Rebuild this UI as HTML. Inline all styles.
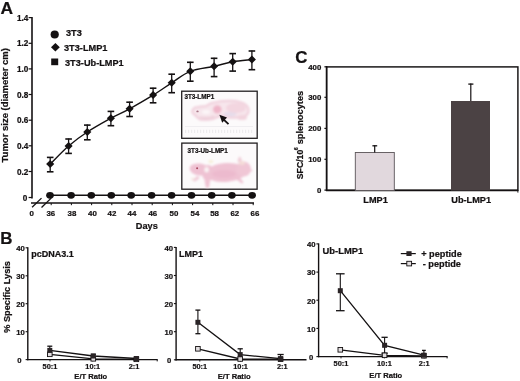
<!DOCTYPE html>
<html><head><meta charset="utf-8"><style>
html,body{margin:0;padding:0;background:#fff;width:520px;height:381px;overflow:hidden}
svg{display:block}
text{stroke:#141112;stroke-width:0.22px;paint-order:stroke}
svg{filter:blur(0.3px)}
</style></head><body>
<svg width="520" height="381" viewBox="0 0 520 381" font-family="'Liberation Sans', sans-serif" font-weight="bold" fill="#141112">
<text x="0.5" y="14.3" font-size="17.4" text-anchor="start" >A</text>
<line x1="32.0" y1="17.0" x2="32.0" y2="198.6" stroke="#141112" stroke-width="1.6"/>
<line x1="28.6" y1="197.5" x2="32.0" y2="197.5" stroke="#141112" stroke-width="1.2"/>
<text x="27.2" y="200.6" font-size="8.2" text-anchor="end" >0</text>
<line x1="28.6" y1="171.5" x2="32.0" y2="171.5" stroke="#141112" stroke-width="1.2"/>
<text x="28.3" y="174.55999999999997" font-size="8.2" text-anchor="end" >0.2</text>
<line x1="28.6" y1="145.8" x2="32.0" y2="145.8" stroke="#141112" stroke-width="1.2"/>
<text x="28.3" y="148.92" font-size="8.2" text-anchor="end" >0.4</text>
<line x1="28.6" y1="120.2" x2="32.0" y2="120.2" stroke="#141112" stroke-width="1.2"/>
<text x="28.3" y="123.28" font-size="8.2" text-anchor="end" >0.6</text>
<line x1="28.6" y1="94.5" x2="32.0" y2="94.5" stroke="#141112" stroke-width="1.2"/>
<text x="28.3" y="97.63999999999999" font-size="8.2" text-anchor="end" >0.8</text>
<line x1="28.6" y1="68.9" x2="32.0" y2="68.9" stroke="#141112" stroke-width="1.2"/>
<text x="28.3" y="72.0" font-size="8.2" text-anchor="end" >1.0</text>
<line x1="28.6" y1="43.3" x2="32.0" y2="43.3" stroke="#141112" stroke-width="1.2"/>
<text x="28.3" y="46.36000000000002" font-size="8.2" text-anchor="end" >1.2</text>
<line x1="28.6" y1="17.6" x2="32.0" y2="17.6" stroke="#141112" stroke-width="1.2"/>
<text x="28.3" y="20.720000000000034" font-size="8.2" text-anchor="end" >1.4</text>
<text transform="translate(8.4,105.3) rotate(-90)" font-size="9.5" text-anchor="middle">Tumor size (diameter cm)</text>
<line x1="31" y1="203.1" x2="254" y2="203.1" stroke="#141112" stroke-width="1.5"/>
<line x1="32.1" y1="207.3" x2="41.5" y2="198.1" stroke="#141112" stroke-width="1.3"/>
<line x1="41.5" y1="207.5" x2="51.2" y2="198.1" stroke="#141112" stroke-width="1.3"/>
<line x1="51.2" y1="203" x2="51.2" y2="205.2" stroke="#141112" stroke-width="1"/>
<text x="50.8" y="216.3" font-size="7.9" text-anchor="middle" >36</text>
<line x1="71.4" y1="203" x2="71.4" y2="205.2" stroke="#141112" stroke-width="1"/>
<text x="72.0" y="216.3" font-size="7.9" text-anchor="middle" >38</text>
<line x1="91.6" y1="203" x2="91.6" y2="205.2" stroke="#141112" stroke-width="1"/>
<text x="92.5" y="216.3" font-size="7.9" text-anchor="middle" >40</text>
<line x1="111.8" y1="203" x2="111.8" y2="205.2" stroke="#141112" stroke-width="1"/>
<text x="111.9" y="216.3" font-size="7.9" text-anchor="middle" >42</text>
<line x1="132.0" y1="203" x2="132.0" y2="205.2" stroke="#141112" stroke-width="1"/>
<text x="132.0" y="216.3" font-size="7.9" text-anchor="middle" >44</text>
<line x1="152.2" y1="203" x2="152.2" y2="205.2" stroke="#141112" stroke-width="1"/>
<text x="152.8" y="216.3" font-size="7.9" text-anchor="middle" >46</text>
<line x1="172.4" y1="203" x2="172.4" y2="205.2" stroke="#141112" stroke-width="1"/>
<text x="174.0" y="216.3" font-size="7.9" text-anchor="middle" >50</text>
<line x1="192.6" y1="203" x2="192.6" y2="205.2" stroke="#141112" stroke-width="1"/>
<text x="195.0" y="216.3" font-size="7.9" text-anchor="middle" >54</text>
<line x1="212.8" y1="203" x2="212.8" y2="205.2" stroke="#141112" stroke-width="1"/>
<text x="214.6" y="216.3" font-size="7.9" text-anchor="middle" >58</text>
<line x1="233.0" y1="203" x2="233.0" y2="205.2" stroke="#141112" stroke-width="1"/>
<text x="234.8" y="216.3" font-size="7.9" text-anchor="middle" >62</text>
<line x1="253.2" y1="203" x2="253.2" y2="205.2" stroke="#141112" stroke-width="1"/>
<text x="255.0" y="216.3" font-size="7.9" text-anchor="middle" >66</text>
<text x="31.8" y="216.3" font-size="7.9" text-anchor="middle" >0</text>
<text x="146.8" y="229.2" font-size="9.2" text-anchor="middle" >Days</text>
<polyline points="50.0,195.2 71.1,195.2 91.3,195.2 111.3,195.2 131.2,195.2 151.6,195.2 171.6,195.2 191.5,195.2 211.7,195.2 231.9,195.2 252.1,195.2" fill="none" stroke="#141112" stroke-width="1.4"/>
<ellipse cx="50.0" cy="195.3" rx="3.85" ry="3.35" fill="#141112"/>
<ellipse cx="71.1" cy="195.3" rx="3.85" ry="3.35" fill="#141112"/>
<ellipse cx="91.3" cy="195.3" rx="3.85" ry="3.35" fill="#141112"/>
<ellipse cx="111.3" cy="195.3" rx="3.85" ry="3.35" fill="#141112"/>
<ellipse cx="131.2" cy="195.3" rx="3.85" ry="3.35" fill="#141112"/>
<ellipse cx="151.6" cy="195.3" rx="3.85" ry="3.35" fill="#141112"/>
<ellipse cx="171.6" cy="195.3" rx="3.85" ry="3.35" fill="#141112"/>
<ellipse cx="191.5" cy="195.3" rx="3.85" ry="3.35" fill="#141112"/>
<ellipse cx="211.7" cy="195.3" rx="3.85" ry="3.35" fill="#141112"/>
<ellipse cx="231.9" cy="195.3" rx="3.85" ry="3.35" fill="#141112"/>
<ellipse cx="252.1" cy="195.3" rx="3.85" ry="3.35" fill="#141112"/>
<path d="M50.2,164.1 C53.3,161.1 62.4,151.3 68.6,146 C74.8,140.7 80.2,136.6 87.3,132 C94.3,127.4 103.9,122.1 110.9,118.2 C118.0,114.3 122.6,112.7 129.6,108.8 C136.6,104.9 146.1,99.4 153.1,95.1 C160.1,90.8 165.5,86.8 171.7,82.8 C177.9,78.8 183.2,74.0 190.3,71.3 C197.4,68.5 207.0,67.9 214.1,66.3 C221.2,64.7 226.4,62.9 232.7,61.8 C239.0,60.7 248.7,60.0 251.9,59.6" fill="none" stroke="#141112" stroke-width="1.4"/>
<line x1="50.2" y1="156.9" x2="50.2" y2="172" stroke="#141112" stroke-width="1.3"/>
<line x1="46.900000000000006" y1="157.4" x2="53.5" y2="157.4" stroke="#141112" stroke-width="1.6"/>
<line x1="46.900000000000006" y1="171.8" x2="53.5" y2="171.8" stroke="#141112" stroke-width="1.6"/>
<path d="M50.2,160.1 L54.25,164.1 L50.2,168.1 L46.150000000000006,164.1 Z" fill="#141112"/>
<line x1="68.6" y1="138.5" x2="68.6" y2="153.6" stroke="#141112" stroke-width="1.3"/>
<line x1="65.3" y1="139.0" x2="71.89999999999999" y2="139.0" stroke="#141112" stroke-width="1.6"/>
<line x1="65.3" y1="153.4" x2="71.89999999999999" y2="153.4" stroke="#141112" stroke-width="1.6"/>
<path d="M68.6,142.0 L72.64999999999999,146 L68.6,150.0 L64.55,146 Z" fill="#141112"/>
<line x1="87.3" y1="124.6" x2="87.3" y2="140" stroke="#141112" stroke-width="1.3"/>
<line x1="84.0" y1="125.1" x2="90.6" y2="125.1" stroke="#141112" stroke-width="1.6"/>
<line x1="84.0" y1="139.8" x2="90.6" y2="139.8" stroke="#141112" stroke-width="1.6"/>
<path d="M87.3,128.0 L91.35,132 L87.3,136.0 L83.25,132 Z" fill="#141112"/>
<line x1="110.9" y1="110.9" x2="110.9" y2="125.9" stroke="#141112" stroke-width="1.3"/>
<line x1="107.60000000000001" y1="111.4" x2="114.2" y2="111.4" stroke="#141112" stroke-width="1.6"/>
<line x1="107.60000000000001" y1="125.7" x2="114.2" y2="125.7" stroke="#141112" stroke-width="1.6"/>
<path d="M110.9,114.2 L114.95,118.2 L110.9,122.2 L106.85000000000001,118.2 Z" fill="#141112"/>
<line x1="129.6" y1="101.7" x2="129.6" y2="116.7" stroke="#141112" stroke-width="1.3"/>
<line x1="126.3" y1="102.2" x2="132.9" y2="102.2" stroke="#141112" stroke-width="1.6"/>
<line x1="126.3" y1="116.5" x2="132.9" y2="116.5" stroke="#141112" stroke-width="1.6"/>
<path d="M129.6,104.8 L133.65,108.8 L129.6,112.8 L125.55,108.8 Z" fill="#141112"/>
<line x1="153.1" y1="87.7" x2="153.1" y2="103" stroke="#141112" stroke-width="1.3"/>
<line x1="149.79999999999998" y1="88.2" x2="156.4" y2="88.2" stroke="#141112" stroke-width="1.6"/>
<line x1="149.79999999999998" y1="102.8" x2="156.4" y2="102.8" stroke="#141112" stroke-width="1.6"/>
<path d="M153.1,91.1 L157.15,95.1 L153.1,99.1 L149.04999999999998,95.1 Z" fill="#141112"/>
<line x1="171.7" y1="73.7" x2="171.7" y2="92.9" stroke="#141112" stroke-width="1.3"/>
<line x1="168.39999999999998" y1="74.2" x2="175.0" y2="74.2" stroke="#141112" stroke-width="1.6"/>
<line x1="168.39999999999998" y1="92.7" x2="175.0" y2="92.7" stroke="#141112" stroke-width="1.6"/>
<path d="M171.7,78.8 L175.75,82.8 L171.7,86.8 L167.64999999999998,82.8 Z" fill="#141112"/>
<line x1="190.3" y1="61.8" x2="190.3" y2="81.4" stroke="#141112" stroke-width="1.3"/>
<line x1="187.0" y1="62.3" x2="193.60000000000002" y2="62.3" stroke="#141112" stroke-width="1.6"/>
<line x1="187.0" y1="81.2" x2="193.60000000000002" y2="81.2" stroke="#141112" stroke-width="1.6"/>
<path d="M190.3,67.3 L194.35000000000002,71.3 L190.3,75.3 L186.25,71.3 Z" fill="#141112"/>
<line x1="214.1" y1="57.8" x2="214.1" y2="76.8" stroke="#141112" stroke-width="1.3"/>
<line x1="210.79999999999998" y1="58.3" x2="217.4" y2="58.3" stroke="#141112" stroke-width="1.6"/>
<line x1="210.79999999999998" y1="76.6" x2="217.4" y2="76.6" stroke="#141112" stroke-width="1.6"/>
<path d="M214.1,62.3 L218.15,66.3 L214.1,70.3 L210.04999999999998,66.3 Z" fill="#141112"/>
<line x1="232.7" y1="53.1" x2="232.7" y2="71.3" stroke="#141112" stroke-width="1.3"/>
<line x1="229.39999999999998" y1="53.6" x2="236.0" y2="53.6" stroke="#141112" stroke-width="1.6"/>
<line x1="229.39999999999998" y1="71.1" x2="236.0" y2="71.1" stroke="#141112" stroke-width="1.6"/>
<path d="M232.7,57.8 L236.75,61.8 L232.7,65.8 L228.64999999999998,61.8 Z" fill="#141112"/>
<line x1="251.9" y1="50.5" x2="251.9" y2="69.9" stroke="#141112" stroke-width="1.3"/>
<line x1="248.6" y1="51.0" x2="255.20000000000002" y2="51.0" stroke="#141112" stroke-width="1.6"/>
<line x1="248.6" y1="69.7" x2="255.20000000000002" y2="69.7" stroke="#141112" stroke-width="1.6"/>
<path d="M251.9,55.6 L255.95000000000002,59.6 L251.9,63.6 L247.85,59.6 Z" fill="#141112"/>
<ellipse cx="54.7" cy="34.5" rx="4.1" ry="3.9" fill="#141112"/>
<path d="M55.4,43 L59.8,47.3 L55.4,51.6 L51,47.3 Z" fill="#141112"/>
<rect x="51.2" y="58.5" width="7" height="6.7" fill="#141112"/>
<text x="66" y="36.0" font-size="9.2" text-anchor="start" >3T3</text>
<text x="64" y="51.0" font-size="9.2" text-anchor="start" >3T3-LMP1</text>
<text x="65" y="66.3" font-size="9.2" text-anchor="start" >3T3-Ub-LMP1</text>
<defs><filter id="bl" x="-20%" y="-20%" width="140%" height="140%"><feGaussianBlur stdDeviation="0.9"/></filter><filter id="bl2" x="-20%" y="-20%" width="140%" height="140%"><feGaussianBlur stdDeviation="0.5"/></filter></defs>
<rect x="181.7" y="91.2" width="75.5" height="47.1" fill="#fcfafb" stroke="#221e20" stroke-width="1.3"/>
<rect x="181.8" y="143.1" width="75.3" height="46.1" fill="#fcfafb" stroke="#221e20" stroke-width="1.3"/>
<g filter="url(#bl)" transform="translate(0,1)"><path d="M192.2,110 C193,107 195,106 198,106 C201,105.2 204,105.2 206,105 C209,103 211.5,101.8 214,101.6 C219,100 225,99.6 231,99.8 C237,100 242,101 245.5,103.5 C248,105.5 249,108 248.6,110.5 C248,113 246,115 243.5,115.6 C239,117 234,117 229,116.6 C225,116 222.5,115 220.5,114.8 C217,116 214,117.6 211.5,118.2 C207,119 203,119 200,118.4 C197.5,117 196,115 195,114 C193,113 192,111.5 192.2,110 Z" fill="#f7e6ec" stroke="#f0cfdb" stroke-width="2"/><ellipse cx="217.3" cy="108.4" rx="4.3" ry="4.1" fill="#efb6c9"/><ellipse cx="230" cy="113" rx="6.5" ry="2.4" fill="#e6dcea"/><ellipse cx="206" cy="111" rx="4" ry="2.2" fill="#fbf5f7"/><ellipse cx="236" cy="107" rx="10" ry="5" fill="#f3d6e0"/><ellipse cx="242" cy="116.5" rx="5" ry="2.6" fill="#f2d4de"/><path d="M200,116 C205,117.5 210,117 214,115" fill="none" stroke="#e8c4d0" stroke-width="1.2"/></g>
<ellipse cx="197.5" cy="111.4" rx="1.2" ry="0.9" fill="#a87888" filter="url(#bl2)"/>
<g filter="url(#bl2)" opacity="0.4"><line x1="185" y1="126.5" x2="253" y2="126.5" stroke="#d6d4da" stroke-width="0.8"/><line x1="185" y1="131.6" x2="254" y2="131.6" stroke="#d8d6da" stroke-width="3.6" stroke-dasharray="1.2 1.8"/></g>
<line x1="228.5" y1="124.1" x2="223.5" y2="119.4" stroke="#141012" stroke-width="1.9"/>
<path d="M219.4,114.8 L227,117.4 L222.2,122.7 Z" fill="#141012"/>
<g filter="url(#bl)"><path d="M197,176 L192.5,180.5 L195,181.5 L200,178 Z" fill="#f0cad8"/><path d="M204.5,180 L206,187.8 L209,187.5 L210,181 Z" fill="#efc2d3"/><path d="M236,179 L242,183.8 L243.5,182 L240,178 Z" fill="#efc4d4"/><path d="M237.5,162 L238.8,156.8 L241,157.5 L242,162 Z" fill="#f0cdd8"/><ellipse cx="199.5" cy="169.5" rx="10" ry="6" transform="rotate(8 199.5 169.5)" fill="#efc2d3"/><ellipse cx="208" cy="173" rx="6" ry="8" fill="#efc2d3"/><ellipse cx="226" cy="172.5" rx="20.5" ry="9.4" transform="rotate(-4 226 172.5)" fill="#efc2d3"/><ellipse cx="243.5" cy="169" rx="7.5" ry="7.5" fill="#f0c6d5"/><path d="M249,168 L252.8,170.6 L249,172.5 Z" fill="#f0c8d6"/><ellipse cx="224" cy="174" rx="12" ry="4" fill="#ecbace"/><ellipse cx="206.6" cy="169.8" rx="2.3" ry="2.7" fill="#faf3f4"/><ellipse cx="210.8" cy="161.6" rx="2.6" ry="1.8" fill="#f6f0dc"/><ellipse cx="242" cy="163" rx="3" ry="2" fill="#f4dcd8"/><ellipse cx="193" cy="179" rx="2" ry="1" fill="#f4e4dc"/></g>
<circle cx="197.1" cy="168.2" r="1" fill="#a84a60" filter="url(#bl2)"/>
<text x="184.4" y="98.9" font-size="6.3" text-anchor="start" >3T3-LMP1</text>
<text x="187.6" y="153.0" font-size="6.3" text-anchor="start" >3T3-Ub-LMP1</text>
<text x="295.2" y="62.6" font-size="16.9" text-anchor="start" >C</text>
<rect x="326.6" y="66.9" width="191.3" height="123.3" fill="none" stroke="#141112" stroke-width="1.45"/>
<line x1="326.6" y1="66" x2="326.6" y2="191" stroke="#141112" stroke-width="1.5"/>
<line x1="326" y1="190.5" x2="518" y2="190.5" stroke="#141112" stroke-width="1.5"/>
<line x1="517.9" y1="190" x2="517.9" y2="192.6" stroke="#141112" stroke-width="1"/>
<line x1="324.4" y1="190.1" x2="326.6" y2="190.1" stroke="#141112" stroke-width="1.2"/>
<text x="321.3" y="193.1" font-size="7.8" text-anchor="end" >0</text>
<line x1="324.4" y1="159.3" x2="326.6" y2="159.3" stroke="#141112" stroke-width="1.2"/>
<text x="321.3" y="162.3" font-size="7.8" text-anchor="end" >100</text>
<line x1="324.4" y1="128.4" x2="326.6" y2="128.4" stroke="#141112" stroke-width="1.2"/>
<text x="321.3" y="131.4" font-size="7.8" text-anchor="end" >200</text>
<line x1="324.4" y1="97.3" x2="326.6" y2="97.3" stroke="#141112" stroke-width="1.2"/>
<text x="321.3" y="100.3" font-size="7.8" text-anchor="end" >300</text>
<line x1="324.4" y1="66.8" x2="326.6" y2="66.8" stroke="#141112" stroke-width="1.2"/>
<text x="321.3" y="69.8" font-size="7.8" text-anchor="end" >400</text>
<rect x="355.3" y="152.5" width="39" height="38" fill="#e1d8dd" stroke="#5a5458" stroke-width="0.9"/>
<rect x="451" y="101" width="39" height="89.5" fill="#4b4244"/>
<line x1="374.7" y1="145.3" x2="374.7" y2="152.5" stroke="#141112" stroke-width="1.2"/>
<line x1="372.4" y1="145.8" x2="377.2" y2="145.8" stroke="#141112" stroke-width="1.3"/>
<line x1="470.8" y1="83.6" x2="470.8" y2="101" stroke="#141112" stroke-width="1.2"/>
<line x1="468.3" y1="84.1" x2="473.4" y2="84.1" stroke="#141112" stroke-width="1.3"/>
<text x="375.6" y="203.4" font-size="9.2" text-anchor="middle" >LMP1</text>
<text x="471.2" y="203.4" font-size="9.2" text-anchor="middle" >Ub-LMP1</text>
<text transform="translate(303.2,179.2) rotate(-90)" font-size="8.7">SFC/10</text>
<text transform="translate(297.8,150.2) rotate(-90)" font-size="5.3">6</text>
<text transform="translate(303.4,144.3) rotate(-90)" font-size="9.25">splenocytes</text>
<text x="0.2" y="243.8" font-size="16.9" text-anchor="start" >B</text>
<text transform="translate(9.9,296.9) rotate(-90)" font-size="9.2" text-anchor="middle">% Specific Lysis</text>
<line x1="27.8" y1="247.3" x2="27.8" y2="360.20000000000005" stroke="#141112" stroke-width="1.4"/>
<line x1="27.2" y1="359.6" x2="157.7" y2="359.6" stroke="#141112" stroke-width="1.4"/>
<line x1="157.2" y1="359.6" x2="157.2" y2="361.40000000000003" stroke="#141112" stroke-width="1"/>
<line x1="25.6" y1="359.6" x2="27.8" y2="359.6" stroke="#141112" stroke-width="1.1"/>
<text x="21.5" y="362.6" font-size="7.7" text-anchor="end" >0</text>
<line x1="25.6" y1="331.7" x2="27.8" y2="331.7" stroke="#141112" stroke-width="1.1"/>
<text x="24.8" y="335.0" font-size="7.7" text-anchor="end" >10</text>
<line x1="25.6" y1="303.7" x2="27.8" y2="303.7" stroke="#141112" stroke-width="1.1"/>
<text x="24.8" y="307.0" font-size="7.7" text-anchor="end" >20</text>
<line x1="25.6" y1="275.8" x2="27.8" y2="275.8" stroke="#141112" stroke-width="1.1"/>
<text x="24.8" y="279.1" font-size="7.7" text-anchor="end" >30</text>
<line x1="25.6" y1="247.8" x2="27.8" y2="247.8" stroke="#141112" stroke-width="1.1"/>
<text x="24.8" y="251.1" font-size="7.7" text-anchor="end" >40</text>
<line x1="50.0" y1="359.6" x2="50.0" y2="361.40000000000003" stroke="#141112" stroke-width="0.9"/>
<text x="50.0" y="368.5" font-size="7.4" text-anchor="middle" >50:1</text>
<line x1="92.7" y1="359.6" x2="92.7" y2="361.40000000000003" stroke="#141112" stroke-width="0.9"/>
<text x="92.7" y="368.5" font-size="7.4" text-anchor="middle" >10:1</text>
<line x1="134.0" y1="359.6" x2="134.0" y2="361.40000000000003" stroke="#141112" stroke-width="0.9"/>
<text x="134.0" y="368.5" font-size="7.4" text-anchor="middle" >2:1</text>
<text x="90.8" y="378.7" font-size="7.6" text-anchor="middle" >E/T Ratio</text>
<text x="31.2" y="256.6" font-size="9.0" text-anchor="start" >pcDNA3.1</text>
<polyline points="49.8,354.3 93.3,358.8 136.4,359.3" fill="none" stroke="#141112" stroke-width="1.3"/>
<polyline points="49.8,350.4 93.3,356.0 136.4,358.5" fill="none" stroke="#141112" stroke-width="1.3"/>
<line x1="49.8" y1="346.2" x2="49.8" y2="355.1" stroke="#141112" stroke-width="1.1"/>
<line x1="47.3" y1="346.2" x2="52.3" y2="346.2" stroke="#141112" stroke-width="1.3"/>
<line x1="47.3" y1="355.1" x2="52.3" y2="355.1" stroke="#141112" stroke-width="1.3"/>
<line x1="93.3" y1="354.3" x2="93.3" y2="357.6" stroke="#141112" stroke-width="1.1"/>
<line x1="90.8" y1="354.3" x2="95.8" y2="354.3" stroke="#141112" stroke-width="1.3"/>
<line x1="90.8" y1="357.6" x2="95.8" y2="357.6" stroke="#141112" stroke-width="1.3"/>
<line x1="136.4" y1="357.1" x2="136.4" y2="359.6" stroke="#141112" stroke-width="1.1"/>
<line x1="133.9" y1="357.1" x2="138.9" y2="357.1" stroke="#141112" stroke-width="1.3"/>
<rect x="47.5" y="352.0" width="4.6" height="4.6" fill="#e2dee0" stroke="#141112" stroke-width="0.9"/>
<rect x="91.0" y="356.5" width="4.6" height="4.6" fill="#e2dee0" stroke="#141112" stroke-width="0.9"/>
<rect x="134.1" y="357.0" width="4.6" height="4.6" fill="#e2dee0" stroke="#141112" stroke-width="0.9"/>
<rect x="47.3" y="347.9" width="5" height="5" fill="#2a2426"/>
<rect x="90.8" y="353.5" width="5" height="5" fill="#2a2426"/>
<rect x="133.9" y="356.0" width="5" height="5" fill="#2a2426"/>
<line x1="176.1" y1="246.9" x2="176.1" y2="360.40000000000003" stroke="#141112" stroke-width="1.4"/>
<line x1="175.5" y1="359.8" x2="306.5" y2="359.8" stroke="#141112" stroke-width="1.4"/>
<line x1="173.9" y1="359.8" x2="176.1" y2="359.8" stroke="#141112" stroke-width="1.1"/>
<text x="171.4" y="362.8" font-size="7.7" text-anchor="end" >0</text>
<line x1="173.9" y1="331.7" x2="176.1" y2="331.7" stroke="#141112" stroke-width="1.1"/>
<text x="173.1" y="335.0" font-size="7.7" text-anchor="end" >10</text>
<line x1="173.9" y1="303.6" x2="176.1" y2="303.6" stroke="#141112" stroke-width="1.1"/>
<text x="173.1" y="306.9" font-size="7.7" text-anchor="end" >20</text>
<line x1="173.9" y1="275.5" x2="176.1" y2="275.5" stroke="#141112" stroke-width="1.1"/>
<text x="173.1" y="278.8" font-size="7.7" text-anchor="end" >30</text>
<line x1="173.9" y1="247.4" x2="176.1" y2="247.4" stroke="#141112" stroke-width="1.1"/>
<text x="173.1" y="250.7" font-size="7.7" text-anchor="end" >40</text>
<line x1="199.8" y1="359.8" x2="199.8" y2="361.6" stroke="#141112" stroke-width="0.9"/>
<text x="199.8" y="368.7" font-size="7.4" text-anchor="middle" >50:1</text>
<line x1="240.6" y1="359.8" x2="240.6" y2="361.6" stroke="#141112" stroke-width="0.9"/>
<text x="240.6" y="368.7" font-size="7.4" text-anchor="middle" >10:1</text>
<line x1="282.3" y1="359.8" x2="282.3" y2="361.6" stroke="#141112" stroke-width="0.9"/>
<text x="282.3" y="368.7" font-size="7.4" text-anchor="middle" >2:1</text>
<text x="234.2" y="379.4" font-size="7.6" text-anchor="middle" >E/T Ratio</text>
<text x="179.0" y="256.7" font-size="9.0" text-anchor="start" >LMP1</text>
<polyline points="197.9,348.8 240.2,359.0 280.6,359.2" fill="none" stroke="#141112" stroke-width="1.3"/>
<polyline points="197.9,322.3 240.2,354.6 280.6,358.7" fill="none" stroke="#141112" stroke-width="1.3"/>
<line x1="197.9" y1="310.1" x2="197.9" y2="333.7" stroke="#141112" stroke-width="1.1"/>
<line x1="195.4" y1="310.1" x2="200.4" y2="310.1" stroke="#141112" stroke-width="1.3"/>
<line x1="195.4" y1="333.7" x2="200.4" y2="333.7" stroke="#141112" stroke-width="1.3"/>
<line x1="240.2" y1="348.8" x2="240.2" y2="359.8" stroke="#141112" stroke-width="1.1"/>
<line x1="237.6" y1="348.8" x2="242.79999999999998" y2="348.8" stroke="#141112" stroke-width="1.3"/>
<line x1="280.6" y1="354.5" x2="280.6" y2="359.8" stroke="#141112" stroke-width="1.1"/>
<line x1="277.5" y1="354.5" x2="283.70000000000005" y2="354.5" stroke="#141112" stroke-width="1.3"/>
<rect x="195.6" y="346.5" width="4.6" height="4.6" fill="#e2dee0" stroke="#141112" stroke-width="0.9"/>
<rect x="237.9" y="356.7" width="4.6" height="4.6" fill="#e2dee0" stroke="#141112" stroke-width="0.9"/>
<rect x="278.3" y="356.9" width="4.6" height="4.6" fill="#e2dee0" stroke="#141112" stroke-width="0.9"/>
<rect x="195.4" y="319.8" width="5" height="5" fill="#2a2426"/>
<rect x="237.7" y="352.1" width="5" height="5" fill="#2a2426"/>
<rect x="278.1" y="356.2" width="5" height="5" fill="#2a2426"/>
<line x1="318.6" y1="243.4" x2="318.6" y2="357.20000000000005" stroke="#141112" stroke-width="1.4"/>
<line x1="318.0" y1="356.6" x2="447.6" y2="356.6" stroke="#141112" stroke-width="1.4"/>
<line x1="447.1" y1="356.6" x2="447.1" y2="358.40000000000003" stroke="#141112" stroke-width="1"/>
<line x1="316.40000000000003" y1="356.6" x2="318.6" y2="356.6" stroke="#141112" stroke-width="1.1"/>
<text x="313.20000000000005" y="359.6" font-size="7.7" text-anchor="end" >0</text>
<line x1="316.40000000000003" y1="328.4" x2="318.6" y2="328.4" stroke="#141112" stroke-width="1.1"/>
<text x="315.6" y="331.7" font-size="7.7" text-anchor="end" >10</text>
<line x1="316.40000000000003" y1="300.2" x2="318.6" y2="300.2" stroke="#141112" stroke-width="1.1"/>
<text x="315.6" y="303.6" font-size="7.7" text-anchor="end" >20</text>
<line x1="316.40000000000003" y1="272.1" x2="318.6" y2="272.1" stroke="#141112" stroke-width="1.1"/>
<text x="315.6" y="275.4" font-size="7.7" text-anchor="end" >30</text>
<line x1="316.40000000000003" y1="243.9" x2="318.6" y2="243.9" stroke="#141112" stroke-width="1.1"/>
<text x="315.6" y="247.2" font-size="7.7" text-anchor="end" >40</text>
<line x1="341.0" y1="356.6" x2="341.0" y2="358.40000000000003" stroke="#141112" stroke-width="0.9"/>
<text x="341.0" y="365.5" font-size="7.4" text-anchor="middle" >50:1</text>
<line x1="384.4" y1="356.6" x2="384.4" y2="358.40000000000003" stroke="#141112" stroke-width="0.9"/>
<text x="384.4" y="365.5" font-size="7.4" text-anchor="middle" >10:1</text>
<line x1="424.2" y1="356.6" x2="424.2" y2="358.40000000000003" stroke="#141112" stroke-width="0.9"/>
<text x="424.2" y="365.5" font-size="7.4" text-anchor="middle" >2:1</text>
<text x="385.8" y="378.0" font-size="7.6" text-anchor="middle" >E/T Ratio</text>
<text x="322.6" y="254.3" font-size="9.4" text-anchor="start" >Ub-LMP1</text>
<polyline points="340.3,349.8 384.6,355.3 423.9,355.8" fill="none" stroke="#141112" stroke-width="1.3"/>
<polyline points="340.3,290.7 384.6,345.3 423.9,355.2" fill="none" stroke="#141112" stroke-width="1.3"/>
<line x1="340.3" y1="273.8" x2="340.3" y2="310.7" stroke="#141112" stroke-width="1.1"/>
<line x1="336.0" y1="273.8" x2="344.6" y2="273.8" stroke="#141112" stroke-width="1.3"/>
<line x1="336.0" y1="310.7" x2="344.6" y2="310.7" stroke="#141112" stroke-width="1.3"/>
<line x1="384.6" y1="337.3" x2="384.6" y2="353.2" stroke="#141112" stroke-width="1.1"/>
<line x1="381.5" y1="337.3" x2="387.70000000000005" y2="337.3" stroke="#141112" stroke-width="1.3"/>
<line x1="381.5" y1="353.2" x2="387.70000000000005" y2="353.2" stroke="#141112" stroke-width="1.3"/>
<line x1="423.9" y1="350.4" x2="423.9" y2="356.6" stroke="#141112" stroke-width="1.1"/>
<line x1="422.0" y1="350.4" x2="425.79999999999995" y2="350.4" stroke="#141112" stroke-width="1.3"/>
<rect x="338.0" y="347.5" width="4.6" height="4.6" fill="#e2dee0" stroke="#141112" stroke-width="0.9"/>
<rect x="382.3" y="353.0" width="4.6" height="4.6" fill="#e2dee0" stroke="#141112" stroke-width="0.9"/>
<rect x="421.6" y="353.5" width="4.6" height="4.6" fill="#e2dee0" stroke="#141112" stroke-width="0.9"/>
<rect x="337.8" y="288.2" width="5" height="5" fill="#2a2426"/>
<rect x="382.1" y="342.8" width="5" height="5" fill="#2a2426"/>
<rect x="421.4" y="352.7" width="5" height="5" fill="#2a2426"/>
<line x1="400.8" y1="253.6" x2="415.8" y2="253.6" stroke="#141112" stroke-width="1.2"/>
<rect x="406.4" y="251.2" width="5.2" height="4.8" fill="#2a2426"/>
<line x1="400.8" y1="263.6" x2="415.8" y2="263.6" stroke="#141112" stroke-width="1.2"/>
<rect x="406.8" y="261.3" width="4.8" height="4.6" fill="#e2dee0" stroke="#141112" stroke-width="0.9"/>
<text x="421.2" y="256.6" font-size="9.2" text-anchor="start" >+ peptide</text>
<text x="422.7" y="266.6" font-size="9.2" text-anchor="start" >- peptide</text>
</svg>
</body></html>
